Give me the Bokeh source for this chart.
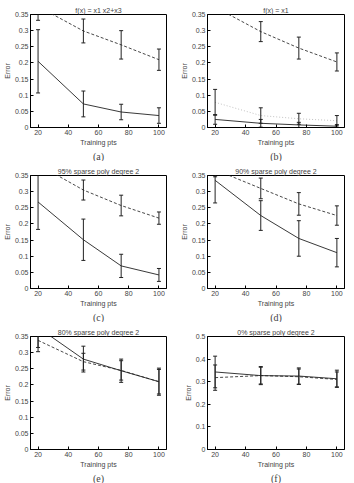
from bokeh.plotting import figure
from bokeh.layouts import gridplot
from bokeh.models import FixedTicker, Title, Range1d, ColumnDataSource
from bokeh.embed import file_html
from bokeh.resources import INLINE

# ---------------- data ----------------
x_pts = [20, 50, 75, 100]
x_ticks = [20, 40, 60, 80, 100]
x_tick_labels = ["20", "40", "60", "80", "100"]

y_ticks_035 = [0, 0.05, 0.1, 0.15, 0.2, 0.25, 0.3, 0.35]
y_labels_035 = ["0", "0.05", "0.1", "0.15", "0.2", "0.25", "0.3", "0.35"]
y_ticks_05 = [0, 0.1, 0.2, 0.3, 0.4, 0.5]
y_labels_05 = ["0", "0.1", "0.2", "0.3", "0.4", "0.5"]

titles = ["f(x) = x1 x2+x3", "f(x) = x1", "95% sparse poly degree 2",
          "90% sparse poly degree 2", "80% sparse poly degree 2", "0% sparse poly degree 2"]
captions = ["(a)", "(b)", "(c)", "(d)", "(e)", "(f)"]

a_solid = [0.205, 0.073, 0.048, 0.037]
a_solid_err = [0.098, 0.040, 0.024, 0.024]
a_dashed = [0.375, 0.299, 0.256, 0.210]
a_dashed_err = [0.043, 0.037, 0.044, 0.033]

b_solid = [0.025, 0.013, 0.008, 0.004]
b_solid_err = [0.015, 0.012, 0.008, 0.005]
b_dotted = [0.078, 0.037, 0.027, 0.021]
b_dotted_err = [0.040, 0.024, 0.017, 0.016]
b_dashed = [0.373, 0.297, 0.246, 0.203]
b_dashed_err = [0.020, 0.031, 0.034, 0.028]

c_solid = [0.268, 0.151, 0.070, 0.042]
c_solid_err = [0.085, 0.064, 0.036, 0.020]
c_dashed = [0.384, 0.305, 0.257, 0.218]
c_dashed_err = [0.030, 0.031, 0.032, 0.019]

d_solid = [0.335, 0.226, 0.155, 0.111]
d_solid_err = [0.070, 0.046, 0.055, 0.044]
d_dashed = [0.368, 0.310, 0.262, 0.226]
d_dashed_err = [0.022, 0.032, 0.035, 0.030]

e_solid = [0.378, 0.280, 0.244, 0.210]
e_solid_err = [0.075, 0.040, 0.036, 0.042]
e_dashed = [0.338, 0.272, 0.245, 0.210]
e_dashed_err = [0.022, 0.026, 0.030, 0.038]

f_solid = [0.343, 0.327, 0.325, 0.313]
f_solid_err = [0.070, 0.040, 0.036, 0.038]
f_dashed = [0.318, 0.327, 0.322, 0.310]
f_dashed_err = [0.056, 0.037, 0.034, 0.033]

FONT = "Liberation Sans"
SERIF = "Liberation Serif"


def add_series(p, xs, ys, errs, dash, color):
    src = ColumnDataSource(dict(
        x=xs, y=ys,
        lo=[v - e for v, e in zip(ys, errs)],
        hi=[v + e for v, e in zip(ys, errs)],
    ))
    p.line("x", "y", source=src, line_color=color, line_width=0.9, line_dash=dash)
    p.segment(x0="x", y0="lo", x1="x", y1="hi", source=src, line_color="#222222", line_width=1)
    p.dash(x="x", y="lo", source=src, size=4, line_color="#222222", line_width=1)
    p.dash(x="x", y="hi", source=src, size=4, line_color="#222222", line_width=1)


def panel(idx, series, ymax, yticks, ylabels, bl, br):
    p = figure(width=177, height=161, output_backend="svg", toolbar_location=None,
               x_range=Range1d(15, 105), y_range=Range1d(0, ymax),
               min_border_left=bl, min_border_right=br, min_border_top=14, min_border_bottom=30)
    p.title.text = titles[idx]
    p.title.text_font = FONT
    p.title.text_font_size = "7px"
    p.title.text_font_style = "normal"
    p.title.align = "center"
    p.title.standoff = 2
    p.xgrid.visible = False
    p.ygrid.visible = False
    p.outline_line_color = "black"
    p.outline_line_alpha = 1
    p.outline_line_width = 1
    p.background_fill_color = "white"
    p.border_fill_color = "white"

    p.xaxis.ticker = FixedTicker(ticks=x_ticks)
    p.xaxis.major_label_overrides = {t: l for t, l in zip(x_ticks, x_tick_labels)}
    p.yaxis.ticker = FixedTicker(ticks=yticks)
    p.yaxis.major_label_overrides = {t: l for t, l in zip(yticks, ylabels)}
    p.xaxis.axis_label = "Training pts"
    p.yaxis.axis_label = "Error"
    for ax in (p.xaxis, p.yaxis):
        ax.axis_label_text_font = FONT
        ax.axis_label_text_font_size = "7px"
        ax.axis_label_text_font_style = "normal"
        ax.axis_label_standoff = 1
        ax.major_label_text_font = FONT
        ax.major_label_text_font_size = "7px"
        ax.major_label_standoff = 2
        ax.major_tick_in = 3
        ax.major_tick_out = 0
        ax.minor_tick_line_color = None
        ax.axis_line_color = "black"

    for ys, errs, dash, color in series:
        add_series(p, x_pts, ys, errs, dash, color)

    cap = Title(text=captions[idx], align="center", text_font=SERIF,
                text_font_size="10px", text_font_style="normal", standoff=0)
    p.add_layout(cap, "below")
    return p


pa = panel(0, [(a_dashed, a_dashed_err, "3 2", "#333333"), (a_solid, a_solid_err, "solid", "#222222")],
           0.35, y_ticks_035, y_labels_035, 19, 11)
pb = panel(1, [(b_dotted, b_dotted_err, "1 2", "#bbbbbb"), (b_dashed, b_dashed_err, "3 2", "#333333"),
               (b_solid, b_solid_err, "solid", "#222222")],
           0.35, y_ticks_035, y_labels_035, 19, 10)
pc = panel(2, [(c_dashed, c_dashed_err, "3 2", "#333333"), (c_solid, c_solid_err, "solid", "#222222")],
           0.35, y_ticks_035, y_labels_035, 19, 10)
pd = panel(3, [(d_dashed, d_dashed_err, "3 2", "#333333"), (d_solid, d_solid_err, "solid", "#222222")],
           0.35, y_ticks_035, y_labels_035, 19, 10)
pe = panel(4, [(e_dashed, e_dashed_err, "3 2", "#333333"), (e_solid, e_solid_err, "solid", "#222222")],
           0.35, y_ticks_035, y_labels_035, 19, 11)
pf = panel(5, [(f_dashed, f_dashed_err, "3 2", "#333333"), (f_solid, f_solid_err, "solid", "#222222")],
           0.5, y_ticks_05, y_labels_05, 22, 5)

grid = gridplot([[pa, pb], [pc, pd], [pe, pf]], toolbar_location=None)

open("out.html", "w").write(file_html(grid, INLINE))
